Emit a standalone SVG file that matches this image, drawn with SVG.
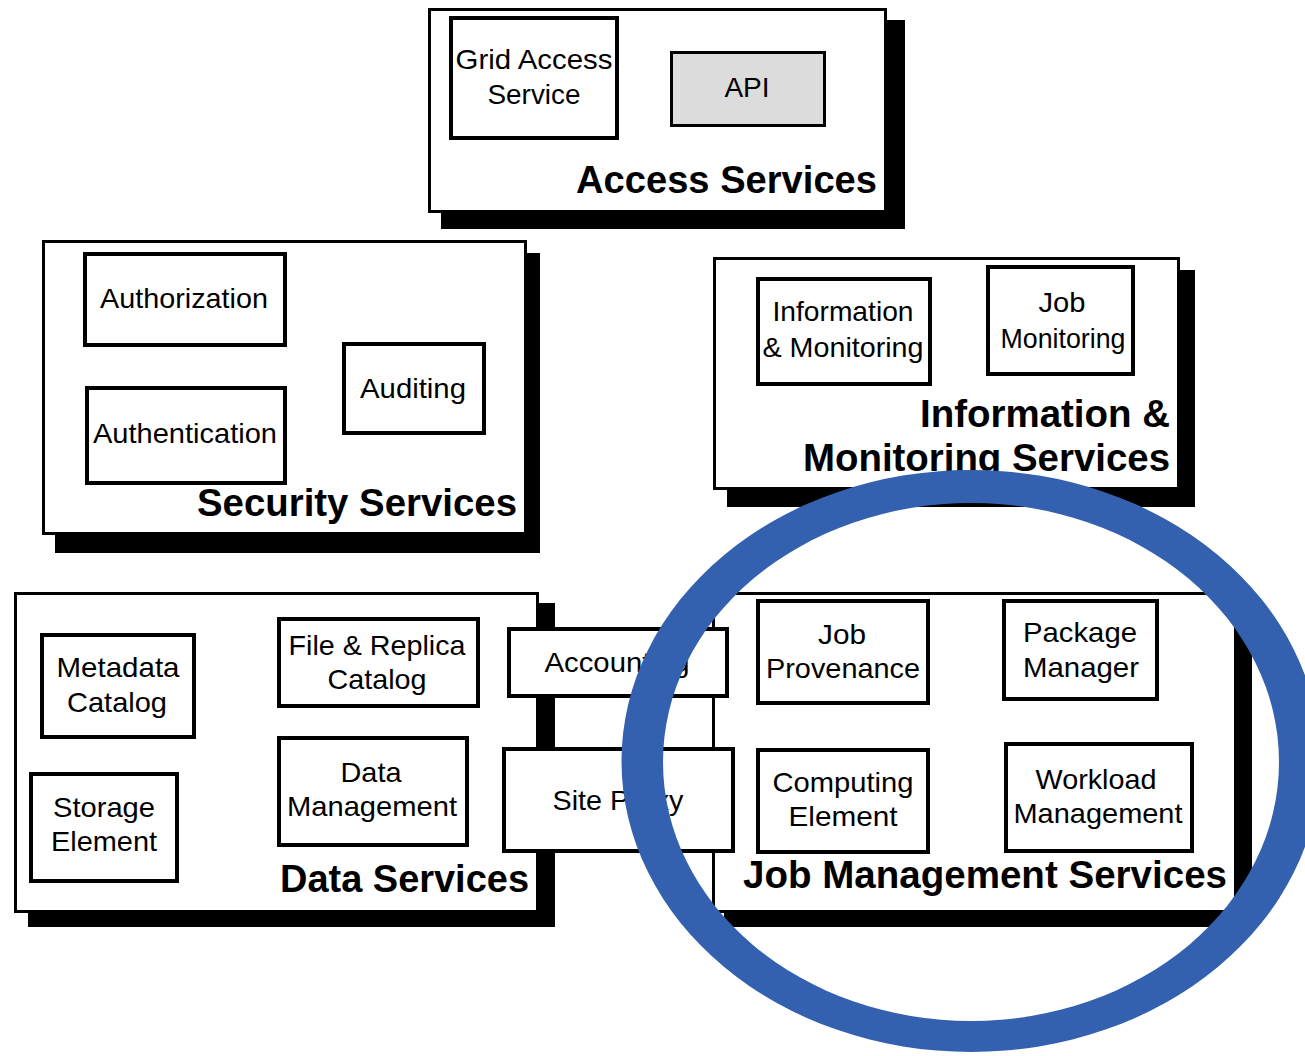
<svg xmlns="http://www.w3.org/2000/svg" width="1305" height="1056" viewBox="0 0 1305 1056">
<style>
.bg{fill:#fff}
.shadow{fill:#000}
.panel{fill:#fff;stroke:#000;stroke-width:3}
.box{fill:#fff;stroke:#000;stroke-width:4}
.api{fill:#dcdcdc;stroke:#000;stroke-width:3}
.lbl{font-family:"Liberation Sans",Arial,sans-serif;font-size:28px;text-anchor:middle;fill:#000}
.title{font-family:"Liberation Sans",Arial,sans-serif;font-size:38px;font-weight:bold;text-anchor:end;fill:#000}
.ring{fill:#3461AF;fill-rule:evenodd}
</style>
<rect class="bg" x="0" y="0" width="1305" height="1056"/>

<g id="access-services">
  <rect class="shadow" x="441" y="20" width="464" height="209"/>
  <rect class="panel" x="429.5" y="9.5" width="456" height="202"/>
  <text class="title" x="877" y="193" textLength="301" lengthAdjust="spacingAndGlyphs">Access Services</text>
</g>
<g id="grid-access-service">
  <rect class="box" x="451" y="18" width="166" height="120"/>
  <text class="lbl" x="534" y="69" textLength="157" lengthAdjust="spacingAndGlyphs">Grid Access</text>
  <text class="lbl" x="534" y="104" textLength="93" lengthAdjust="spacingAndGlyphs">Service</text>
</g>
<g id="api">
  <rect class="api" x="671.5" y="52.5" width="153" height="73"/>
  <text class="lbl" x="747" y="97">API</text>
</g>

<g id="security-services">
  <rect class="shadow" x="55" y="253" width="485" height="300"/>
  <rect class="panel" x="43.5" y="241.5" width="482" height="292"/>
  <text class="title" x="517" y="516" textLength="320" lengthAdjust="spacingAndGlyphs">Security Services</text>
</g>
<g id="authorization">
  <rect class="box" x="85" y="254" width="200" height="91"/>
  <text class="lbl" x="184" y="308" textLength="168" lengthAdjust="spacingAndGlyphs">Authorization</text>
</g>
<g id="authentication">
  <rect class="box" x="87" y="388" width="198" height="95"/>
  <text class="lbl" x="185" y="443" textLength="184" lengthAdjust="spacingAndGlyphs">Authentication</text>
</g>
<g id="auditing">
  <rect class="box" x="344" y="344" width="140" height="89"/>
  <text class="lbl" x="413" y="398" textLength="106" lengthAdjust="spacingAndGlyphs">Auditing</text>
</g>

<g id="information-monitoring-services">
  <rect class="shadow" x="727" y="270" width="468" height="237"/>
  <rect class="panel" x="714.5" y="258.5" width="464" height="230"/>
  <text class="title" x="1170" y="427" textLength="250" lengthAdjust="spacingAndGlyphs">Information &amp;</text>
  <text class="title" x="1170" y="471" textLength="367" lengthAdjust="spacingAndGlyphs">Monitoring Services</text>
</g>
<g id="information-monitoring">
  <rect class="box" x="758" y="279" width="172" height="105"/>
  <text class="lbl" x="843" y="321" textLength="141" lengthAdjust="spacingAndGlyphs">Information</text>
  <text class="lbl" x="843" y="357" textLength="161" lengthAdjust="spacingAndGlyphs">&amp; Monitoring</text>
</g>
<g id="job-monitoring">
  <rect class="box" x="988" y="267" width="145" height="107"/>
  <text class="lbl" x="1062" y="312" textLength="47" lengthAdjust="spacingAndGlyphs">Job</text>
  <text class="lbl" x="1063" y="348" textLength="125" lengthAdjust="spacingAndGlyphs">Monitoring</text>
</g>

<g id="data-services">
  <rect class="shadow" x="28" y="603" width="527" height="324"/>
  <rect class="panel" x="15.5" y="593.5" width="522" height="318"/>
  <text class="title" x="529" y="892" textLength="249" lengthAdjust="spacingAndGlyphs">Data Services</text>
</g>
<g id="metadata-catalog">
  <rect class="box" x="42" y="635" width="152" height="102"/>
  <text class="lbl" x="118" y="677" textLength="123" lengthAdjust="spacingAndGlyphs">Metadata</text>
  <text class="lbl" x="117" y="712" textLength="100" lengthAdjust="spacingAndGlyphs">Catalog</text>
</g>
<g id="storage-element">
  <rect class="box" x="31" y="774" width="146" height="107"/>
  <text class="lbl" x="104" y="817" textLength="102" lengthAdjust="spacingAndGlyphs">Storage</text>
  <text class="lbl" x="104" y="851" textLength="106" lengthAdjust="spacingAndGlyphs">Element</text>
</g>
<g id="file-replica-catalog">
  <rect class="box" x="279" y="619" width="199" height="87"/>
  <text class="lbl" x="377" y="655" textLength="177" lengthAdjust="spacingAndGlyphs">File &amp; Replica</text>
  <text class="lbl" x="377" y="689" textLength="99" lengthAdjust="spacingAndGlyphs">Catalog</text>
</g>
<g id="data-management">
  <rect class="box" x="279" y="738" width="188" height="107"/>
  <text class="lbl" x="371" y="782" textLength="61" lengthAdjust="spacingAndGlyphs">Data</text>
  <text class="lbl" x="372" y="816" textLength="170" lengthAdjust="spacingAndGlyphs">Management</text>
</g>

<g id="job-management-services">
  <rect class="shadow" x="724" y="605" width="528" height="322"/>
  <rect class="panel" x="713.5" y="593.5" width="522" height="318"/>
  <text class="title" x="1227" y="888" textLength="484" lengthAdjust="spacingAndGlyphs">Job Management Services</text>
</g>
<g id="job-provenance">
  <rect class="box" x="758" y="601" width="170" height="102"/>
  <text class="lbl" x="842" y="644" textLength="48" lengthAdjust="spacingAndGlyphs">Job</text>
  <text class="lbl" x="843" y="678" textLength="154" lengthAdjust="spacingAndGlyphs">Provenance</text>
</g>
<g id="package-manager">
  <rect class="box" x="1004" y="601" width="153" height="98"/>
  <text class="lbl" x="1080" y="642" textLength="114" lengthAdjust="spacingAndGlyphs">Package</text>
  <text class="lbl" x="1081" y="677" textLength="116" lengthAdjust="spacingAndGlyphs">Manager</text>
</g>
<g id="computing-element">
  <rect class="box" x="758" y="750" width="170" height="102"/>
  <text class="lbl" x="843" y="792" textLength="141" lengthAdjust="spacingAndGlyphs">Computing</text>
  <text class="lbl" x="843" y="826" textLength="109" lengthAdjust="spacingAndGlyphs">Element</text>
</g>
<g id="workload-management">
  <rect class="box" x="1006" y="744" width="186" height="107"/>
  <text class="lbl" x="1096" y="789" textLength="121" lengthAdjust="spacingAndGlyphs">Workload</text>
  <text class="lbl" x="1098" y="823" textLength="169" lengthAdjust="spacingAndGlyphs">Management</text>
</g>

<g id="accounting">
  <rect class="box" x="509" y="629" width="218" height="67"/>
  <text class="lbl" x="617" y="672" textLength="145" lengthAdjust="spacingAndGlyphs">Accounting</text>
</g>
<g id="site-proxy">
  <rect class="box" x="504" y="749" width="229" height="102"/>
  <text class="lbl" x="618" y="810" textLength="131" lengthAdjust="spacingAndGlyphs">Site Proxy</text>
</g>

<g id="connectors"></g>

<g id="highlight">
  <path class="ring" d="M 621.5 761 a 349.5 291 0 1 0 699 0 a 349.5 291 0 1 0 -699 0 Z M 663 762 a 308 259 0 1 0 616 0 a 308 259 0 1 0 -616 0 Z"/>
</g>
</svg>
